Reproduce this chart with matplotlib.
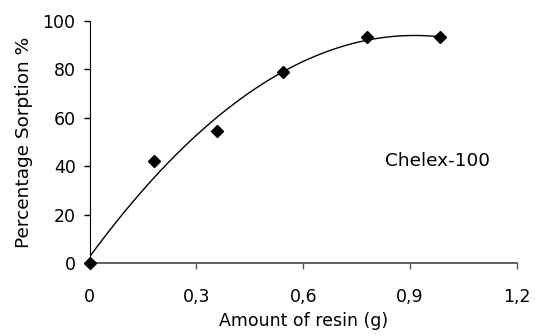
import numpy as np
import matplotlib.pyplot as plt

plt.rcParams['font.family'] = ['DejaVu Sans']

# data
resin_g = [0, 0.18, 0.357, 0.543, 0.78, 0.985]
sorption = [0, 42.3, 54.6, 79.0, 93.1, 93.1]
x_ticks = [0, 0.3, 0.6, 0.9, 1.2]
x_ticklabels = ['0', '0,3', '0,6', '0,9', '1,2']
y_ticks = [0, 20, 40, 60, 80, 100]

fig = plt.figure(figsize=(5.35, 3.36), dpi=100)
ax = fig.add_axes([0.1673, 0.2164, 0.7991, 0.7220])

# second order polynomial trendline
coef = np.polyfit(resin_g, sorption, 2)
xs = np.linspace(0, max(resin_g), 200)
ax.plot(xs, np.polyval(coef, xs), color='black', lw=1.0)

ax.plot(resin_g, sorption, 'D', color='black', markersize=6, clip_on=False, zorder=5)

ax.text(0.83, 42, 'Chelex-100', fontsize=13.3, ha='left', va='center')

ax.set_xlim(0, 1.2)
ax.set_ylim(0, 100)
ax.set_xticks(x_ticks)
ax.set_xticklabels(x_ticklabels)
ax.set_yticks(y_ticks)
ax.tick_params(direction='out', length=4, width=1, labelsize=12.5, pad=6)
ax.tick_params(axis='x', colors='#555555', labelcolor='black', pad=14)

ax.spines['top'].set_visible(False)
ax.spines['right'].set_visible(False)
ax.spines['bottom'].set_color('#555555')
ax.spines['bottom'].set_linewidth(1.3)

ax.set_xlabel('Amount of resin (g)', fontsize=12.5, labelpad=4)
ax.set_ylabel('Percentage Sorption %', fontsize=13.3, labelpad=7)

fig.savefig('out.png', dpi=100)
